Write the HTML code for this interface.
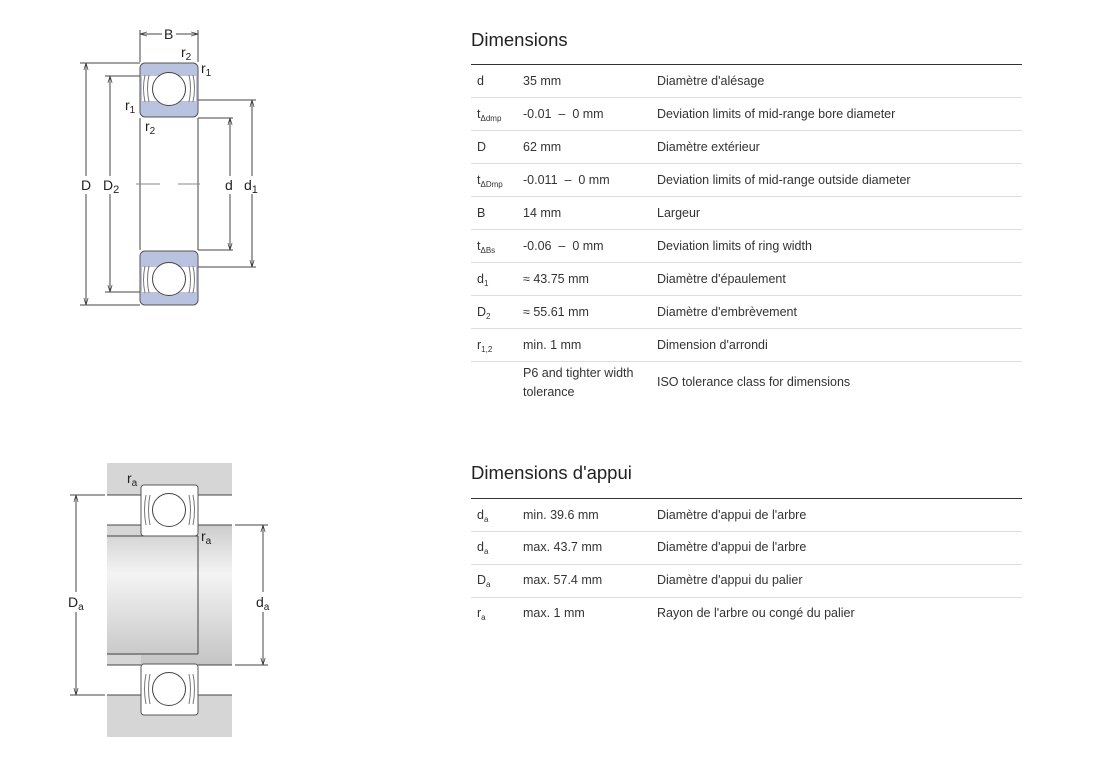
<!DOCTYPE html>
<html><head><meta charset="utf-8"><style>
body{margin:0;background:#fff;width:1107px;height:764px;position:relative;overflow:hidden;font-family:"Liberation Sans",sans-serif;color:#222}
.h{position:absolute;left:471px;font-size:18.5px;color:#222}
.t{position:absolute;font-size:12.5px;color:#333;line-height:19px;margin-top:1px}
.ln{position:absolute;left:471px;width:551px;height:1px;background:#ddd}
.dk{background:#333}
sub{font-size:8px;vertical-align:-3px}
</style></head><body>
<svg width="300" height="764" style="position:absolute;left:0;top:0" font-family="Liberation Sans,sans-serif" font-size="14" fill="#222">
<defs>
<linearGradient id="g" x1="0" y1="0" x2="0" y2="1"><stop offset="0" stop-color="#ccc"/><stop offset="0.35" stop-color="#f4f4f4"/><stop offset="1" stop-color="#c4c4c4"/></linearGradient>
<marker id="a" viewBox="0 0 10 10" refX="10" refY="5" markerWidth="7" markerHeight="7" orient="auto-start-reverse"><path d="M0,2 L10,5 L0,8" fill="none" stroke="#333"/></marker>
<g id="brg">
<rect x="0" y="0" width="58" height="54" rx="5" fill="#b9c3df" stroke="#555"/>
<rect x="2" y="13" width="54" height="25" fill="#fff"/>
<circle cx="29" cy="26" r="16.5" fill="#fff" stroke="#444"/>
<path d="M5,12 q-3,13 0,27 M9,12 q-3,13 0,27 M53,12 q3,13 0,27 M49,12 q3,13 0,27" stroke="#777" fill="none"/>
</g>
<g id="brw">
<rect x="0" y="0" width="57" height="51" rx="3" fill="#fff" stroke="#555"/>
<circle cx="28" cy="25" r="16.5" fill="#fff" stroke="#444"/>
<path d="M5,10 q-3,15 0,30 M9,10 q-3,15 0,30 M52,10 q3,15 0,30 M48,10 q3,15 0,30" stroke="#777" fill="none"/>
</g>
</defs>
<g stroke="#444" stroke-width="1" fill="none">
<line x1="140" y1="118" x2="140" y2="250"/><line x1="198" y1="118" x2="198" y2="250"/>
<line x1="136" y1="184" x2="160" y2="184" stroke="#888"/><line x1="178" y1="184" x2="200" y2="184" stroke="#888"/>
<line x1="140" y1="30" x2="140" y2="62"/><line x1="198" y1="30" x2="198" y2="62"/>
<line x1="140" y1="34" x2="162" y2="34" marker-start="url(#a)"/><line x1="176" y1="34" x2="198" y2="34" marker-end="url(#a)"/>
<line x1="80" y1="63" x2="140" y2="63"/><line x1="80" y1="305" x2="140" y2="305"/>
<line x1="86" y1="63" x2="86" y2="176" marker-start="url(#a)"/><line x1="86" y1="194" x2="86" y2="305" marker-end="url(#a)"/>
<line x1="105" y1="76" x2="142" y2="76"/><line x1="105" y1="292" x2="142" y2="292"/>
<line x1="110" y1="76" x2="110" y2="176" marker-start="url(#a)"/><line x1="110" y1="194" x2="110" y2="292" marker-end="url(#a)"/>
<line x1="198" y1="118" x2="233" y2="118"/><line x1="198" y1="250" x2="233" y2="250"/>
<line x1="230" y1="118" x2="230" y2="176" marker-start="url(#a)"/><line x1="230" y1="194" x2="230" y2="250" marker-end="url(#a)"/>
<line x1="198" y1="100" x2="256" y2="100"/><line x1="198" y1="267" x2="256" y2="267"/>
<line x1="252" y1="100" x2="252" y2="176" marker-start="url(#a)"/><line x1="252" y1="194" x2="252" y2="267" marker-end="url(#a)"/>
</g>
<use href="#brg" x="140" y="63"/>
<g transform="translate(140,305) scale(1,-1)"><use href="#brg"/></g>
<text x="164" y="39">B</text>
<text x="181" y="57">r<tspan font-size="10" dy="3">2</tspan></text>
<text x="201" y="73">r<tspan font-size="10" dy="3">1</tspan></text>
<text x="125" y="110">r<tspan font-size="10" dy="3">1</tspan></text>
<text x="145" y="131">r<tspan font-size="10" dy="3">2</tspan></text>
<text x="81" y="190">D</text>
<text x="103" y="190">D<tspan font-size="11" dy="3">2</tspan></text>
<text x="225" y="190">d</text>
<text x="244" y="190">d<tspan font-size="11" dy="3">1</tspan></text>
<rect x="107" y="463" width="125" height="274" fill="#d6d6d6"/>
<rect x="107" y="495" width="125" height="30" fill="#fff"/>
<rect x="107" y="665" width="125" height="30" fill="#fff"/>
<rect x="107" y="525" width="91" height="140" fill="url(#g)"/>
<rect x="198" y="525" width="34" height="140" fill="url(#g)"/>
<rect x="107" y="525" width="34" height="10" fill="#d6d6d6"/>
<rect x="107" y="655" width="34" height="10" fill="#d6d6d6"/>
<g stroke="#444" fill="none">
<line x1="107" y1="495" x2="141" y2="495"/><line x1="198" y1="495" x2="232" y2="495"/>
<line x1="107" y1="525" x2="141" y2="525"/><line x1="198" y1="525" x2="232" y2="525"/>
<line x1="107" y1="665" x2="141" y2="665"/><line x1="198" y1="665" x2="232" y2="665"/>
<line x1="107" y1="695" x2="141" y2="695"/><line x1="198" y1="695" x2="232" y2="695"/>
<line x1="107" y1="536" x2="198" y2="536"/><line x1="107" y1="654" x2="198" y2="654"/>
<line x1="198" y1="536" x2="198" y2="654"/>
<line x1="70" y1="495" x2="105" y2="495"/><line x1="70" y1="695" x2="105" y2="695"/>
<line x1="76" y1="495" x2="76" y2="592" marker-start="url(#a)"/><line x1="76" y1="612" x2="76" y2="695" marker-end="url(#a)"/>
<line x1="235" y1="525" x2="268" y2="525"/><line x1="235" y1="665" x2="268" y2="665"/>
<line x1="263" y1="525" x2="263" y2="592" marker-start="url(#a)"/><line x1="263" y1="612" x2="263" y2="665" marker-end="url(#a)"/>
</g>
<use href="#brw" x="141" y="485"/>
<use href="#brw" x="141" y="664"/>
<text x="127" y="483">r<tspan font-size="10" dy="3">a</tspan></text>
<text x="201" y="541">r<tspan font-size="10" dy="3">a</tspan></text>
<text x="68" y="607">D<tspan font-size="10" dy="3">a</tspan></text>
<text x="256" y="607">d<tspan font-size="10" dy="3">a</tspan></text>
</svg>

<div class="h" style="top:29px">Dimensions</div>
<div class="ln dk" style="top:64px"></div>
<div class="t" style="left:477px;top:71px">d</div><div class="t" style="left:523px;top:71px">35 mm</div><div class="t" style="left:657px;top:71px">Diamètre d'alésage</div>
<div class="ln" style="top:97px"></div>
<div class="t" style="left:477px;top:104px">t<sub>Δdmp</sub></div><div class="t" style="left:523px;top:104px">-0.01 &nbsp;–&nbsp; 0 mm</div><div class="t" style="left:657px;top:104px">Deviation limits of mid-range bore diameter</div>
<div class="ln" style="top:130px"></div>
<div class="t" style="left:477px;top:137px">D</div><div class="t" style="left:523px;top:137px">62 mm</div><div class="t" style="left:657px;top:137px">Diamètre extérieur</div>
<div class="ln" style="top:163px"></div>
<div class="t" style="left:477px;top:170px">t<sub>ΔDmp</sub></div><div class="t" style="left:523px;top:170px">-0.011 &nbsp;–&nbsp; 0 mm</div><div class="t" style="left:657px;top:170px">Deviation limits of mid-range outside diameter</div>
<div class="ln" style="top:196px"></div>
<div class="t" style="left:477px;top:203px">B</div><div class="t" style="left:523px;top:203px">14 mm</div><div class="t" style="left:657px;top:203px">Largeur</div>
<div class="ln" style="top:229px"></div>
<div class="t" style="left:477px;top:236px">t<sub>ΔBs</sub></div><div class="t" style="left:523px;top:236px">-0.06 &nbsp;–&nbsp; 0 mm</div><div class="t" style="left:657px;top:236px">Deviation limits of ring width</div>
<div class="ln" style="top:262px"></div>
<div class="t" style="left:477px;top:269px">d<sub>1</sub></div><div class="t" style="left:523px;top:269px">≈ 43.75 mm</div><div class="t" style="left:657px;top:269px">Diamètre d'épaulement</div>
<div class="ln" style="top:295px"></div>
<div class="t" style="left:477px;top:302px">D<sub>2</sub></div><div class="t" style="left:523px;top:302px">≈ 55.61 mm</div><div class="t" style="left:657px;top:302px">Diamètre d'embrèvement</div>
<div class="ln" style="top:328px"></div>
<div class="t" style="left:477px;top:335px">r<sub>1,2</sub></div><div class="t" style="left:523px;top:335px">min. 1 mm</div><div class="t" style="left:657px;top:335px">Dimension d'arrondi</div>
<div class="ln" style="top:361px"></div>
<div class="t" style="left:523px;top:363px">P6 and tighter width<br>tolerance</div><div class="t" style="left:657px;top:372px">ISO tolerance class for dimensions</div>

<div class="h" style="top:462px">Dimensions d'appui</div>
<div class="ln dk" style="top:498px"></div>
<div class="t" style="left:477px;top:505px">d<sub>a</sub></div><div class="t" style="left:523px;top:505px">min. 39.6 mm</div><div class="t" style="left:657px;top:505px">Diamètre d'appui de l'arbre</div>
<div class="ln" style="top:531px"></div>
<div class="t" style="left:477px;top:537px">d<sub>a</sub></div><div class="t" style="left:523px;top:537px">max. 43.7 mm</div><div class="t" style="left:657px;top:537px">Diamètre d'appui de l'arbre</div>
<div class="ln" style="top:564px"></div>
<div class="t" style="left:477px;top:570px">D<sub>a</sub></div><div class="t" style="left:523px;top:570px">max. 57.4 mm</div><div class="t" style="left:657px;top:570px">Diamètre d'appui du palier</div>
<div class="ln" style="top:597px"></div>
<div class="t" style="left:477px;top:603px">r<sub>a</sub></div><div class="t" style="left:523px;top:603px">max. 1 mm</div><div class="t" style="left:657px;top:603px">Rayon de l'arbre ou congé du palier</div>
</body></html>
